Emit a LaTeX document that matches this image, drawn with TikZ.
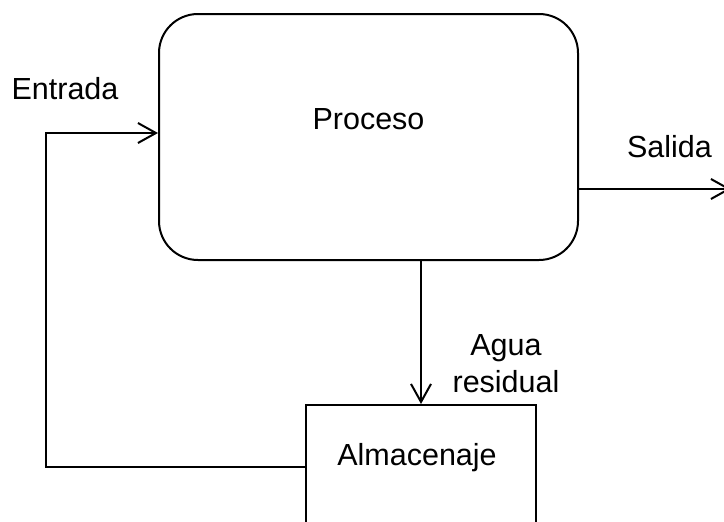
\documentclass[tikz,border=0pt]{standalone}
\usepackage{fontspec}
\setmainfont{Liberation Sans}
\usetikzlibrary{arrows.meta}
\begin{document}
\begin{tikzpicture}[x=1pt,y=-1pt,
  line width=2pt,
  txt/.style={font=\fontsize{30.5}{37}\selectfont, inner sep=0pt},
  arr/.style={-{Straight Barb[length=18pt,width=20pt,line width=2pt]}},
  procbox/.style={draw, rounded corners=39pt, minimum width=419pt, minimum height=246pt, inner sep=0pt},
  storebox/.style={draw, minimum width=230pt, minimum height=124pt, inner sep=0pt}]
  \useasboundingbox (0,0) rectangle (724,522);
  \clip (0,0) rectangle (724,522);

  % main process and storage tank
  \node[procbox] (proc) at (368.5,137) {};
  \node[storebox] (alm) at (421,467) {};

  % labels
  \node[txt, anchor=base] (tproc) at (368.5,129) {Proceso};
  \node[txt, anchor=base] (talm) at (417,465) {Almacenaje};
  \node[txt, anchor=base] (tin) at (65,99) {Entrada};
  \node[txt, anchor=base] (tout) at (669.5,157) {Salida};
  \node[txt, anchor=base, align=center] (twaste) at (506,392) {Agua\\residual};

  % recirculation loop back to the input
  \coordinate (c1) at (46,467);
  \coordinate (c2) at (46,133);
  \draw[arr] (alm.west) -- (c1) -- (c2) -- (proc.west |- c2);

  % waste water to storage
  \draw[arr] (proc.south -| alm.north) -- (alm.north);

  % product output
  \coordinate (out) at (731,189);
  \draw[arr] (proc.east |- out) -- (out);
\end{tikzpicture}
\end{document}
